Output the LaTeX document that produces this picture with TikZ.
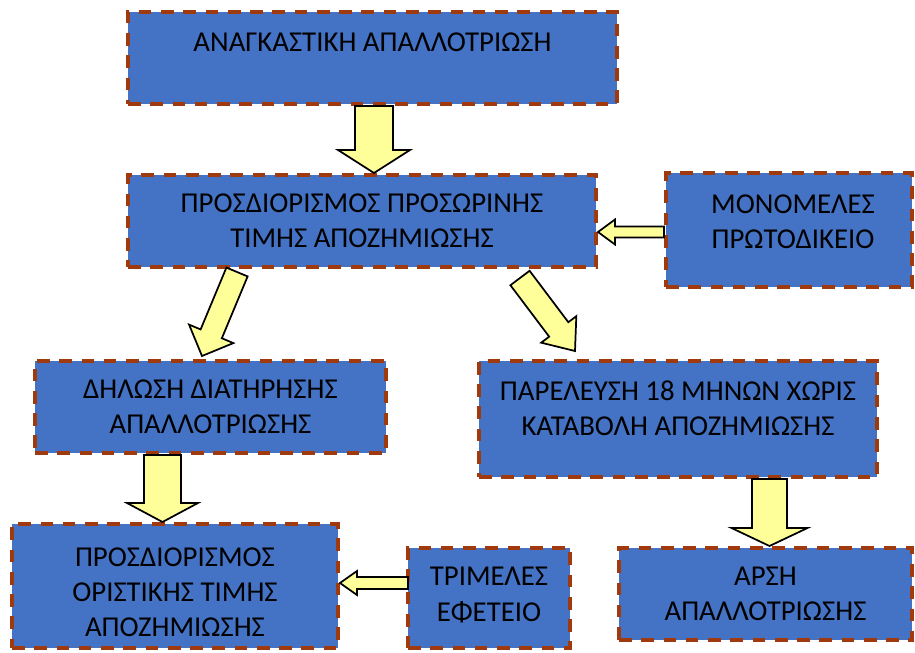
\documentclass[tikz,border=0pt]{standalone}
\usepackage{fontspec}
\setmainfont{Carlito}
\usetikzlibrary{calc,fit}
\definecolor{boxblue}{RGB}{68,114,196}
\definecolor{boxedge}{RGB}{158,58,14}
\definecolor{arrowyellow}{RGB}{255,255,153}
\tikzset{
  box/.style={fill=boxblue, draw=boxedge, line width=3pt,
    dash pattern=on 9.5pt off 7.2pt, inner sep=0pt, rectangle},
  lbl/.style={align=center, text=black, inner sep=0pt,
    font=\fontsize{21.6}{26.3}\selectfont},
  blockarrow/.style={fill=arrowyellow, draw=black, line width=1.3pt, line join=miter}
}
% block arrow: #1 start, #2 tip, #3 half shaft width, #4 half head width, #5 head length (px)
\newcommand\blockarrow[5]{%
  \coordinate (ba-h) at ($(#2)!#5*0.75pt!(#1)$);
  \draw[blockarrow]
    ($(#1)!#3*0.75pt!90:(#2)$) -- ($(ba-h)!#3*0.75pt!90:(#2)$) --
    ($(ba-h)!#4*0.75pt!90:(#2)$) -- (#2) --
    ($(ba-h)!#4*0.75pt!-90:(#2)$) -- ($(ba-h)!#3*0.75pt!-90:(#2)$) --
    ($(#1)!#3*0.75pt!-90:(#2)$) -- cycle;
}
\begin{document}
\begin{tikzpicture}[x=0.75pt, y=-0.75pt]
\useasboundingbox (0,0) rectangle (915,653);

% boxes
\node[box, fit={(128,12)(617,104)}] (b1) {};
\node[box, fit={(128,175)(596,267)}] (b2) {};
\node[box, fit={(666,173)(912,287)}] (b3) {};
\node[box, fit={(35,361)(386,453)}] (b4) {};
\node[box, fit={(479,361)(877,477)}] (b5) {};
\node[box, fit={(12,524)(338,648)}] (b6) {};
\node[box, fit={(408,548)(570,648)}] (b7) {};
\node[box, fit={(619,548)(912,640)}] (b8) {};

% texts
\node[lbl] (t1) at ($(b1.center)+(0,-16)$) {ΑΝΑΓΚΑΣΤΙΚΗ ΑΠΑΛΛΟΤΡΙΩΣΗ};
\node[lbl] (t2) at (b2.center) {ΠΡΟΣΔΙΟΡΙΣΜΟΣ ΠΡΟΣΩΡΙΝΗΣ\\ΤΙΜΗΣ ΑΠΟΖΗΜΙΩΣΗΣ};
\node[lbl] (t3) at ($(b3.center)+(4,-8)$) {ΜΟΝΟΜΕΛΕΣ\\ΠΡΩΤΟΔΙΚΕΙΟ};
\node[lbl] (t4) at (b4.center) {ΔΗΛΩΣΗ ΔΙΑΤΗΡΗΣΗΣ\\ΑΠΑΛΛΟΤΡΙΩΣΗΣ};
\node[lbl] (t5) at ($(b5.center)+(0,-11)$) {ΠΑΡΕΛΕΥΣΗ 18 ΜΗΝΩΝ ΧΩΡΙΣ\\ΚΑΤΑΒΟΛΗ ΑΠΟΖΗΜΙΩΣΗΣ};
\node[lbl] (t6) at ($(b6.center)+(0,6)$) {ΠΡΟΣΔΙΟΡΙΣΜΟΣ\\ΟΡΙΣΤΙΚΗΣ ΤΙΜΗΣ\\ΑΠΟΖΗΜΙΩΣΗΣ};
\node[lbl] (t7) at ($(b7.center)+(0,-3)$) {ΤΡΙΜΕΛΕΣ\\ΕΦΕΤΕΙΟ};
\node[lbl] (t8) at (b8.center) {ΑΡΣΗ\\ΑΠΑΛΛΟΤΡΙΩΣΗΣ};

% arrow end points
\coordinate (a1s) at ($(b1.south)+(1.5,0)$);
\coordinate (a1e) at (a1s |- b2.north);
\coordinate (a2s) at ($(b2.south west)+(111,3)$);
\coordinate (a2e) at ($(b4.north west)+(169,-3)$);
\coordinate (a3s) at ($(b2.south west)+(394,9)$);
\coordinate (a3e) at ($(b5.north west)+(98,-8)$);
\coordinate (a4s) at ($(b3.west)+(0,2)$);
\coordinate (a4e) at (a4s -| b2.east);
\coordinate (a5s) at ($(b7.west)+(2,-15)$);
\coordinate (a5e) at (a5s -| b6.east);
\coordinate (a6s) at ($(b4.south west)+(129.5,0)$);
\coordinate (a6e) at (a6s |- b6.north);
\coordinate (a7s) at ($(b5.south west)+(292.5,0)$);
\coordinate (a7e) at (a7s |- b8.north);

% arrows
\blockarrow{a1s}{a1e}{19}{36}{23}
\blockarrow{a2s}{a2e}{11.5}{24}{24}
\blockarrow{a3s}{a3e}{12}{22}{27}
\blockarrow{a4s}{a4e}{5.5}{12.5}{17}
\blockarrow{a5s}{a5e}{6}{12}{17}
\blockarrow{a6s}{a6e}{18.5}{35.5}{19}
\blockarrow{a7s}{a7e}{17.5}{38}{18}
\end{tikzpicture}
\end{document}
